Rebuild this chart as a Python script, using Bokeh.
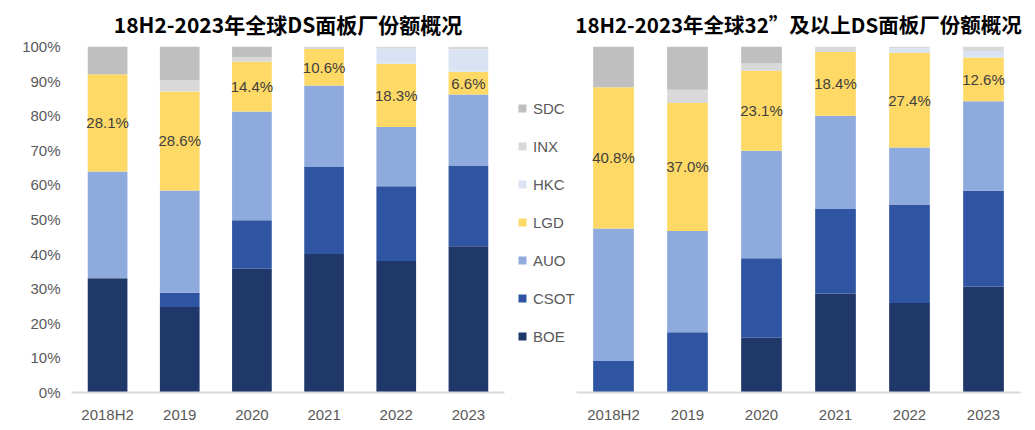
from bokeh.plotting import figure
from bokeh.models import (ColumnDataSource, FactorRange, FixedTicker, PrintfTickFormatter,
                          Legend, LegendItem)
from bokeh.layouts import row
from bokeh.embed import file_html
from bokeh.resources import INLINE
from bokeh.core.properties import value

# ---------------- data ----------------
categories = ["2018H2", "2019", "2020", "2021", "2022", "2023"]
makers = ["BOE", "CSOT", "AUO", "LGD", "HKC", "INX", "SDC"]  # bottom -> top

title_all = "18H2-2023年全球DS面板厂份额概况"
all_boe = [33.0, 24.7, 35.8, 40.0, 38.0, 42.3]
all_csot = [0.0, 4.1, 14.0, 25.2, 21.6, 23.3]
all_auo = [30.9, 29.6, 31.4, 23.5, 17.1, 20.5]
all_lgd = [28.1, 28.6, 14.4, 10.6, 18.3, 6.6]
all_hkc = [0.0, 0.0, 0.0, 0.0, 4.4, 6.5]
all_inx = [0.0, 3.2, 1.4, 0.7, 0.6, 0.8]
all_sdc = [8.0, 9.8, 3.0, 0.0, 0.0, 0.0]

title_32 = "18H2-2023年全球32”及以上DS面板厂份额概况"
big_boe = [0.0, 0.0, 15.8, 28.6, 25.9, 30.6]
big_csot = [9.1, 17.4, 23.0, 24.4, 28.4, 27.7]
big_auo = [38.3, 29.3, 31.1, 27.0, 16.5, 25.9]
big_lgd = [40.8, 37.0, 23.1, 18.4, 27.4, 12.6]
big_hkc = [0.0, 0.0, 0.0, 0.0, 1.3, 1.9]
big_inx = [0.0, 3.8, 2.1, 1.6, 0.5, 1.3]
big_sdc = [11.8, 12.5, 4.9, 0.0, 0.0, 0.0]

y_ticks = [0, 10, 20, 30, 40, 50, 60, 70, 80, 90, 100]

colors = {"BOE": "#1f3769", "CSOT": "#2f54a1", "AUO": "#8faadc", "LGD": "#ffd966",
          "HKC": "#dae3f3", "INX": "#d9d9d9", "SDC": "#bfbfbf"}

TICK_FONT = "Liberation Sans"
TICK_COLOR = "#595959"


def build_source(series):
    data = {"cat": categories}
    for m, vals in zip(makers, series):
        data[m] = vals
    # label position: middle of the LGD segment
    below = [a + b + c for a, b, c in zip(series[0], series[1], series[2])]
    data["lab_y"] = [b + l / 2 for b, l in zip(below, series[3])]
    data["lab"] = ["%.1f%%" % v for v in series[3]]
    return ColumnDataSource(data)


def make_chart(title, title_size, src, show_y, width, min_left, min_right):
    p = figure(x_range=FactorRange(factors=categories, range_padding=0), y_range=(0, 100),
               width=width, height=430,
               min_border_left=min_left, min_border_right=min_right,
               min_border_top=46, min_border_bottom=38,
               y_axis_location="left" if show_y else None,
               output_backend="svg", toolbar_location=None, title=title)
    rs = p.vbar_stack(makers, x="cat", width=0.55, source=src,
                      color=[colors[m] for m in makers], line_color=None)
    p.text(x="cat", y="lab_y", text="lab", source=src, text_align="center",
           text_baseline="middle", text_font=value(TICK_FONT), text_font_size="15px",
           text_color="#404040")

    p.title.text_font = "Noto Sans CJK SC"
    p.title.text_font_style = "bold"
    p.title.text_font_size = title_size
    p.title.align = "center"
    p.title.vertical_align = "top"
    p.title.text_color = "#000000"
    p.title.standoff = 12

    p.xgrid.visible = False
    p.ygrid.visible = False
    p.outline_line_color = None

    xa = p.xaxis[0]
    xa.axis_line_color = "#d9d9d9"
    xa.axis_line_width = 2
    xa.major_tick_line_color = None
    xa.minor_tick_line_color = None
    xa.major_label_text_font = TICK_FONT
    xa.major_label_text_font_size = "15px"
    xa.major_label_text_color = TICK_COLOR
    xa.major_label_standoff = 7

    if show_y:
        ya = p.yaxis[0]
        ya.ticker = FixedTicker(ticks=y_ticks)
        ya.formatter = PrintfTickFormatter(format="%d%%")
        ya.axis_line_color = None
        ya.major_tick_line_color = None
        ya.minor_tick_line_color = None
        ya.major_label_text_font = TICK_FONT
        ya.major_label_text_font_size = "15px"
        ya.major_label_text_color = TICK_COLOR
        ya.major_label_standoff = 5
    return p, rs


src_all = build_source([all_boe, all_csot, all_auo, all_lgd, all_hkc, all_inx, all_sdc])
src_big = build_source([big_boe, big_csot, big_auo, big_lgd, big_hkc, big_inx, big_sdc])

p1, r1 = make_chart(title_all, "21px", src_all, True, 517, 71, 13)
p2, r2 = make_chart(title_32, "20.5px", src_big, False, 459, 0, 15)

# legend strip between the two charts (zero-width proxy bars carry the swatch colours)
p3 = figure(width=59, height=430, x_range=FactorRange(factors=categories), y_range=(0, 100),
            min_border_left=0, min_border_right=0, min_border_top=46, min_border_bottom=38,
            x_axis_location=None, y_axis_location=None,
            output_backend="svg", toolbar_location=None)
p3.xgrid.visible = False
p3.ygrid.visible = False
p3.outline_line_color = None
proxies = p3.vbar_stack(makers, x="cat", width=0, source=src_big,
                        color=[colors[m] for m in makers], line_color=None)

items = [LegendItem(label=m, renderers=[r]) for m, r in zip(makers, proxies)][::-1]
legend = Legend(items=items, location=(0, 46), orientation="vertical",
                glyph_width=10, glyph_height=10, label_standoff=6,
                label_text_font=TICK_FONT, label_text_font_size="15px",
                label_text_color=TICK_COLOR, label_height=20, spacing=18,
                padding=0, margin=0, border_line_color=None, background_fill_alpha=0)
p3.add_layout(legend, "center")

layout = row(p1, p3, p2, spacing=0)
open("out.html", "w").write(file_html(layout, INLINE))
